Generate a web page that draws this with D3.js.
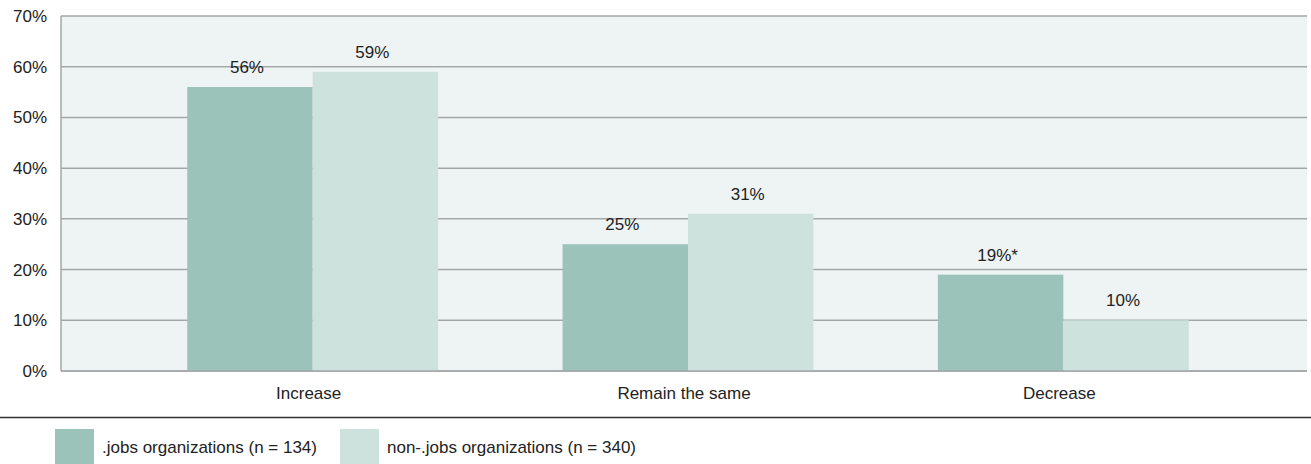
<!DOCTYPE html>
<html>
<head>
<meta charset="utf-8">
<script src="https://cdn.jsdelivr.net/npm/d3@7"></script>
<style>
  html, body { margin: 0; padding: 0; background: #fff; }
  svg { display: block; font-family: "Liberation Sans", Arial, Helvetica, sans-serif; }
</style>
</head>
<body>
<svg id="chart" width="1311" height="464"></svg>
<script>
// Expected change in recruiting activity, by organization group
const categories = ["Increase", "Remain the same", "Decrease"];
const seriesNames = [".jobs organizations (n = 134)", "non-.jobs organizations (n = 340)"];
const jobsValues = [56, 25, 19];
const nonJobsValues = [59, 31, 10];
const jobsLabels = ["56%", "25%", "19%*"];
const nonJobsLabels = ["59%", "31%", "10%"];
const yTicks = [0, 10, 20, 30, 40, 50, 60, 70];

const colors = ["#9cc3ba", "#cde2dd"];
const FONT = 17;
const svg = d3.select("#chart");

const plot = { left: 61, right: 1307, top: 16, bottom: 371 };

const y = d3.scaleLinear().domain([0, 70]).range([plot.bottom, plot.top]);

const x0 = d3.scaleBand().domain(categories).range([125, 1251]).padding(0);
const x1 = d3.scaleBand().domain([0, 1]).range([0, x0.bandwidth()])
  .paddingInner(0).paddingOuter(0.496);

// plot background
svg.append("rect")
  .attr("x", plot.left).attr("y", plot.top)
  .attr("width", plot.right - plot.left).attr("height", plot.bottom - plot.top)
  .attr("fill", "#eef4f4");

// gridlines
svg.append("g").selectAll("line").data(yTicks).join("line")
  .attr("x1", plot.left).attr("x2", plot.right)
  .attr("y1", d => y(d)).attr("y2", d => y(d))
  .attr("stroke", "#a4a7a7").attr("stroke-width", 1.5);

// left axis line
svg.append("line")
  .attr("x1", plot.left).attr("x2", plot.left)
  .attr("y1", plot.top).attr("y2", plot.bottom)
  .attr("stroke", "#a4a7a7").attr("stroke-width", 1.5);

// y tick labels
const yAxis = d3.axisLeft(y).tickValues(yTicks).tickFormat(d => d + "%").tickSize(0).tickPadding(14);
const yg = svg.append("g").attr("transform", `translate(${plot.left},0)`).call(yAxis);
yg.select(".domain").remove();
yg.selectAll("text").attr("font-size", FONT).attr("fill", "#222")
  .attr("font-family", "Liberation Sans, Arial, sans-serif");

const rows = categories.map((c, i) => ({
  cat: c,
  vals: [
    { s: 0, v: jobsValues[i], label: jobsLabels[i] },
    { s: 1, v: nonJobsValues[i], label: nonJobsLabels[i] }
  ]
}));

const groups = svg.append("g").selectAll("g").data(rows).join("g")
  .attr("transform", d => `translate(${x0(d.cat)},0)`);

groups.selectAll("rect").data(d => d.vals).join("rect")
  .attr("x", d => x1(d.s))
  .attr("width", x1.bandwidth())
  .attr("y", d => y(d.v))
  .attr("height", d => y(0) - y(d.v))
  .attr("fill", d => colors[d.s]);

groups.selectAll("text.val").data(d => d.vals).join("text")
  .attr("class", "val")
  .attr("x", d => x1(d.s) + x1.bandwidth() / 2 - 3)
  .attr("y", d => y(d.v) - 14)
  .attr("text-anchor", "middle")
  .attr("font-size", FONT).attr("fill", "#222")
  .text(d => d.label);

// redraw baseline over bars
svg.append("line")
  .attr("x1", plot.left).attr("x2", plot.right)
  .attr("y1", y(0)).attr("y2", y(0))
  .attr("stroke", "#a4a7a7").attr("stroke-width", 1.5);

// category labels
const xAxis = d3.axisBottom(x0).tickSize(0).tickPadding(16);
const xg = svg.append("g").attr("transform", `translate(-4,${plot.bottom})`).call(xAxis);
xg.select(".domain").remove();
xg.selectAll("text").attr("font-size", FONT).attr("fill", "#222")
  .attr("font-family", "Liberation Sans, Arial, sans-serif");

// separator rule
svg.append("line")
  .attr("x1", 0).attr("x2", 1311).attr("y1", 417.5).attr("y2", 417.5)
  .attr("stroke", "#333").attr("stroke-width", 1.5);

// legend
const legendX = [55, 340];
const leg = svg.append("g").selectAll("g").data(seriesNames).join("g")
  .attr("transform", (d, i) => `translate(${legendX[i]},429)`);
leg.append("rect").attr("width", 39).attr("height", 35).attr("fill", (d, i) => colors[i]);
leg.append("text").attr("x", 47).attr("y", 24)
  .attr("font-size", FONT).attr("fill", "#222").text(d => d);
</script>
</body>
</html>
